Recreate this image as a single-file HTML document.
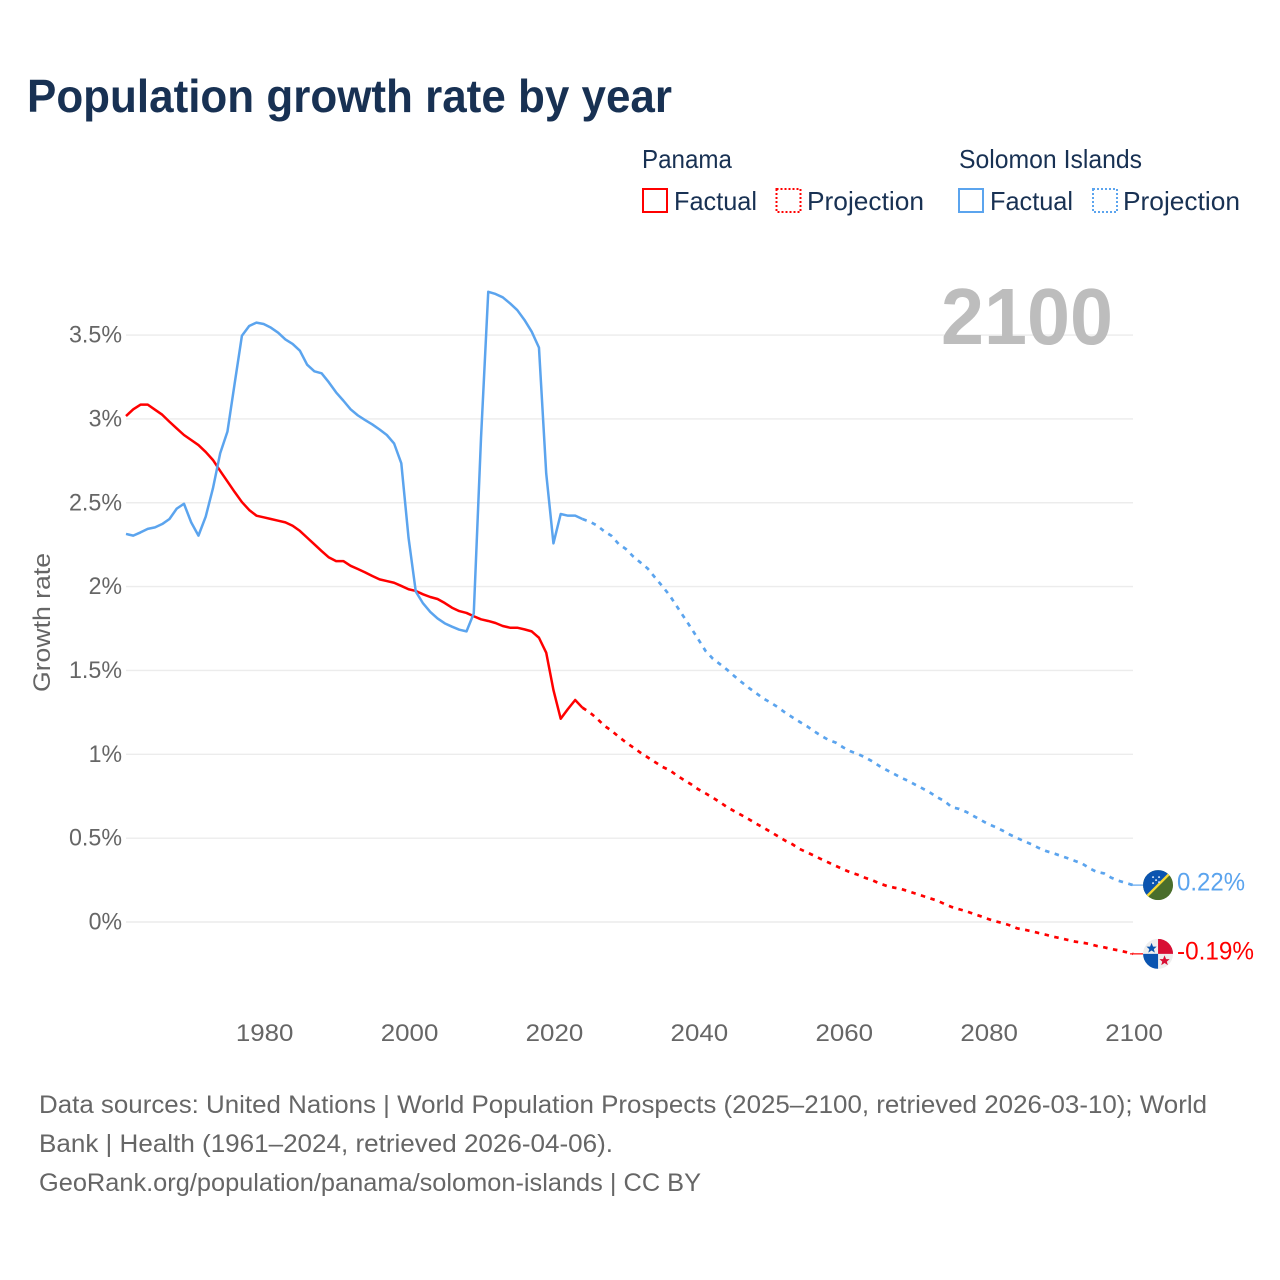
<!DOCTYPE html>
<html lang="en">
<head>
<meta charset="utf-8">
<title>Population growth rate by year</title>
<style>
html,body{margin:0;padding:0;background:#fff;}
body{width:1280px;height:1280px;overflow:hidden;}
svg{display:block;font-family:"Liberation Sans",sans-serif;}
</style>
</head>
<body>
<svg id="chart" xmlns="http://www.w3.org/2000/svg" width="1280" height="1280" viewBox="0 0 1280 1280">
  <defs>
    <clipPath id="flag-clip"><circle cx="0" cy="0" r="15"/></clipPath>
  </defs>
  <rect x="0" y="0" width="1280" height="1280" fill="#fff"/>
  <text x="27" y="112" font-size="46" font-weight="700" fill="#183153" textLength="645" lengthAdjust="spacingAndGlyphs">Population growth rate by year</text>

  <g font-size="26" fill="#183153">
    <text x="642" y="168" textLength="90" lengthAdjust="spacingAndGlyphs">Panama</text>
    <text x="959" y="168" textLength="183" lengthAdjust="spacingAndGlyphs">Solomon Islands</text>
    <g>
      <rect x="643" y="189" width="24" height="23" fill="none" stroke="#ff0000" stroke-width="2"/>
      <text x="674" y="210" textLength="83" lengthAdjust="spacingAndGlyphs">Factual</text>
    </g>
    <g>
      <rect x="776.5" y="189" width="24" height="23" fill="none" stroke="#ff0000" stroke-width="2" stroke-dasharray="2 2"/>
      <text x="807" y="210" textLength="117" lengthAdjust="spacingAndGlyphs">Projection</text>
    </g>
    <g>
      <rect x="959" y="189" width="24" height="23" fill="none" stroke="#5ba4ee" stroke-width="2"/>
      <text x="990" y="210" textLength="83" lengthAdjust="spacingAndGlyphs">Factual</text>
    </g>
    <g>
      <rect x="1093" y="189" width="24" height="23" fill="none" stroke="#5ba4ee" stroke-width="2" stroke-dasharray="2 2"/>
      <text x="1123" y="210" textLength="117" lengthAdjust="spacingAndGlyphs">Projection</text>
    </g>
  </g>

  <g id="grid"></g>
  <text x="941" y="344" font-size="80" font-weight="700" fill="#bdbdbd" textLength="172" lengthAdjust="spacingAndGlyphs">2100</text>
  <g id="y-ticks" font-size="24" fill="#666"></g>
  <g id="x-ticks" font-size="24" fill="#666"></g>
  <text transform="translate(50,622.5) rotate(-90)" text-anchor="middle" font-size="24" fill="#666" textLength="139" lengthAdjust="spacingAndGlyphs">Growth rate</text>
  <g id="series"></g>

  <g id="flag-solomon">
    <g clip-path="url(#flag-clip)">
      <rect x="-15" y="-15" width="30" height="30" fill="#4a6e2c"/>
      <polygon points="-15,-15 15,-15 -15,15" fill="#0a54b0"/>
      <line x1="-15" y1="15" x2="15" y2="-15" stroke="#f5d832" stroke-width="2.4"/>
      <circle cx="-5" cy="-8" r="1" fill="#cfe0f5"/>
      <circle cx="1" cy="-8" r="1" fill="#cfe0f5"/>
      <circle cx="-2" cy="-5" r="1" fill="#cfe0f5"/>
      <circle cx="-5" cy="-2" r="1" fill="#cfe0f5"/>
      <circle cx="1" cy="-3" r="1" fill="#cfe0f5"/>
    </g>
  </g>
  <g id="flag-panama">
    <g clip-path="url(#flag-clip)">
      <rect x="-15" y="-15" width="30" height="30" fill="#eeeeee"/>
      <rect x="0" y="-15" width="15" height="15" fill="#d80f34"/>
      <rect x="-15" y="0" width="15" height="15" fill="#0a54b0"/>
      <polygon points="-6.5,-11 -5,-7.2 -1.4,-7.2 -4.2,-4.8 -3.2,-1.3 -6.5,-3.4 -9.8,-1.3 -8.8,-4.8 -11.6,-7.2 -8,-7.2" fill="#0a54b0"/>
      <polygon points="6.5,1.5 8,5.3 11.6,5.3 8.8,7.7 9.8,11.2 6.5,9.1 3.2,11.2 4.2,7.7 1.4,5.3 5,5.3" fill="#d80f34"/>
    </g>
  </g>
  <g id="end-labels" font-size="25"></g>

  <g font-size="25" fill="#666">
    <text x="39" y="1113" textLength="1168" lengthAdjust="spacingAndGlyphs">Data sources: United Nations | World Population Prospects (2025–2100, retrieved 2026-03-10); World</text>
    <text x="39" y="1152" textLength="574" lengthAdjust="spacingAndGlyphs">Bank | Health (1961–2024, retrieved 2026-04-06).</text>
    <text x="39" y="1191" textLength="662" lengthAdjust="spacingAndGlyphs">GeoRank.org/population/panama/solomon-islands | CC BY</text>
  </g>
</svg>
<script>
const factualFirstYear = 1961;
const projectionFirstYear = 2024;
const yTickValues = [0, 0.5, 1, 1.5, 2, 2.5, 3, 3.5];
const yTickLabels = ["0%", "0.5%", "1%", "1.5%", "2%", "2.5%", "3%", "3.5%"];
const xTickYears = [1980, 2000, 2020, 2040, 2060, 2080, 2100];
const panamaEndLabel = "-0.19%";
const solomonEndLabel = "0.22%";

const panamaFactual = [
  3.017,3.057,3.085,3.085,3.055,3.025,2.983,2.943,2.904,2.874,
  2.844,2.803,2.755,2.69,2.627,2.564,2.504,2.457,2.423,2.413,
  2.403,2.393,2.383,2.363,2.332,2.292,2.252,2.212,2.174,2.152,
  2.152,2.124,2.105,2.085,2.063,2.043,2.033,2.023,2.004,1.984,
  1.974,1.954,1.938,1.926,1.902,1.874,1.854,1.843,1.823,1.805,
  1.795,1.783,1.765,1.755,1.755,1.745,1.733,1.695,1.606,1.383,
  1.212,1.27,1.324,1.278
];
const panamaProjection = [
  1.278,1.25,1.214,1.171,1.141,1.105,1.071,1.041,1.01,0.982,
  0.954,0.926,0.906,0.875,0.847,0.821,0.791,0.767,0.741,0.714,
  0.684,0.66,0.636,0.612,0.586,0.562,0.537,0.511,0.485,0.463,
  0.435,0.415,0.395,0.374,0.354,0.334,0.314,0.296,0.282,0.264,
  0.249,0.23,0.215,0.205,0.197,0.183,0.169,0.155,0.141,0.127,
  0.107,0.089,0.076,0.064,0.048,0.034,0.018,0.004,-0.006,-0.02,
  -0.038,-0.046,-0.055,-0.066,-0.076,-0.088,-0.097,-0.107,-0.117,-0.123,
  -0.131,-0.143,-0.151,-0.161,-0.169,-0.179,-0.19
];
const solomonFactual = [
  2.314,2.304,2.323,2.344,2.353,2.373,2.403,2.465,2.494,2.383,
  2.304,2.417,2.586,2.795,2.924,3.212,3.496,3.554,3.574,3.566,
  3.544,3.514,3.474,3.447,3.407,3.323,3.284,3.272,3.218,3.158,
  3.109,3.057,3.021,2.993,2.967,2.937,2.904,2.854,2.735,2.29,
  1.97,1.9,1.849,1.81,1.781,1.761,1.743,1.733,1.84,2.884,
  3.758,3.745,3.725,3.689,3.649,3.59,3.52,3.425,2.675,2.258,
  2.433,2.423,2.423,2.403
];
const solomonProjection = [
  2.403,2.387,2.365,2.33,2.303,2.254,2.224,2.18,2.144,2.108,
  2.055,2.004,1.95,1.884,1.819,1.753,1.685,1.616,1.57,1.537,
  1.503,1.465,1.429,1.395,1.364,1.332,1.308,1.28,1.248,1.22,
  1.193,1.167,1.137,1.109,1.085,1.069,1.041,1.018,1.002,0.982,
  0.958,0.93,0.906,0.883,0.86,0.841,0.817,0.795,0.771,0.743,
  0.72,0.684,0.674,0.656,0.632,0.608,0.584,0.566,0.545,0.521,
  0.501,0.481,0.463,0.441,0.423,0.41,0.395,0.38,0.364,0.348,
  0.32,0.298,0.29,0.264,0.246,0.233,0.22
];

const SVG_NS = "http://www.w3.org/2000/svg";
const RED = "#ff0000";
const BLUE = "#5ba4ee";
function xScale(year) { return 126 + (year - 1961) * 7.245; }
function yScale(value) { return 922 - value * 167.7; }
function charWidth(c) {
  if (c === ".") return 5.2;
  if (c === "%") return 19;
  if (c === "-") return 9;
  return 14.4;
}
function textWidth(str) {
  let w = 0;
  for (const c of str) w += charWidth(c);
  return w;
}
function makeEl(tag, attrs, parent) {
  const el = document.createElementNS(SVG_NS, tag);
  for (const k in attrs) el.setAttribute(k, attrs[k]);
  parent.appendChild(el);
  return el;
}
function linePoints(values, firstYear) {
  return values.map(function (v, i) {
    return xScale(firstYear + i).toFixed(2) + "," + yScale(v).toFixed(2);
  }).join(" ");
}

const gridGroup = document.getElementById("grid");
yTickValues.forEach(function (v, i) {
  const line = makeEl("line", {x1: 126, x2: 1133, y1: yScale(v), y2: yScale(v), stroke: "#ececec", "stroke-width": 1.4}, gridGroup);
  
  
  const label = makeEl("text", {x: 122, y: yScale(v) + 7.5, "text-anchor": "end", textLength: textWidth(yTickLabels[i]), lengthAdjust: "spacingAndGlyphs"}, document.getElementById("y-ticks"));
  
  
  label.textContent = yTickLabels[i];
});

xTickYears.forEach(function (year) {
  const label = makeEl("text", {x: xScale(year) + 1, y: 1041, "text-anchor": "middle", textLength: textWidth(String(year)), lengthAdjust: "spacingAndGlyphs"}, document.getElementById("x-ticks"));
  
  
  label.textContent = String(year);
});

const seriesGroup = document.getElementById("series");

const panamaFactualLine = makeEl("polyline", {points: linePoints(panamaFactual, factualFirstYear), fill: "none", stroke: RED, "stroke-width": 2.5, "stroke-linejoin": "round"}, seriesGroup);



const solomonFactualLine = makeEl("polyline", {points: linePoints(solomonFactual, factualFirstYear), fill: "none", stroke: BLUE, "stroke-width": 2.5, "stroke-linejoin": "round"}, seriesGroup);



const panamaProjectionLine = makeEl("polyline", {points: linePoints(panamaProjection, projectionFirstYear), fill: "none", stroke: RED, "stroke-width": 2.7, "stroke-dasharray": "4.5 5.5"}, seriesGroup);



const solomonProjectionLine = makeEl("polyline", {points: linePoints(solomonProjection, projectionFirstYear), fill: "none", stroke: BLUE, "stroke-width": 2.7, "stroke-dasharray": "4.5 5.5"}, seriesGroup);



const panamaLast = panamaProjection[panamaProjection.length - 1];
const solomonLast = solomonProjection[solomonProjection.length - 1];
const lastYear = projectionFirstYear + panamaProjection.length - 1;

const panamaConnector = makeEl("line", {x1: xScale(lastYear) - 3, x2: xScale(lastYear) + 10, y1: yScale(panamaLast), y2: yScale(panamaLast), stroke: RED, "stroke-width": 1.2}, seriesGroup);



const solomonConnector = makeEl("line", {x1: xScale(lastYear) - 3, x2: xScale(lastYear) + 10, y1: yScale(solomonLast), y2: yScale(solomonLast), stroke: BLUE, "stroke-width": 1.2}, seriesGroup);



document.getElementById("flag-panama").setAttribute("transform", "translate(" + (xScale(lastYear) + 25) + "," + yScale(panamaLast) + ")");
document.getElementById("flag-solomon").setAttribute("transform", "translate(" + (xScale(lastYear) + 25) + "," + yScale(solomonLast) + ")");

const endLabels = document.getElementById("end-labels");
const panamaLabel = makeEl("text", {x: xScale(lastYear) + 44, y: yScale(panamaLast) + 5.5, fill: RED, textLength: 77, lengthAdjust: "spacingAndGlyphs"}, endLabels);


panamaLabel.textContent = panamaEndLabel;

const solomonLabel = makeEl("text", {x: xScale(lastYear) + 44, y: yScale(solomonLast) + 5.5, fill: BLUE, textLength: 68, lengthAdjust: "spacingAndGlyphs"}, endLabels);


solomonLabel.textContent = solomonEndLabel;
</script>
</body>
</html>
